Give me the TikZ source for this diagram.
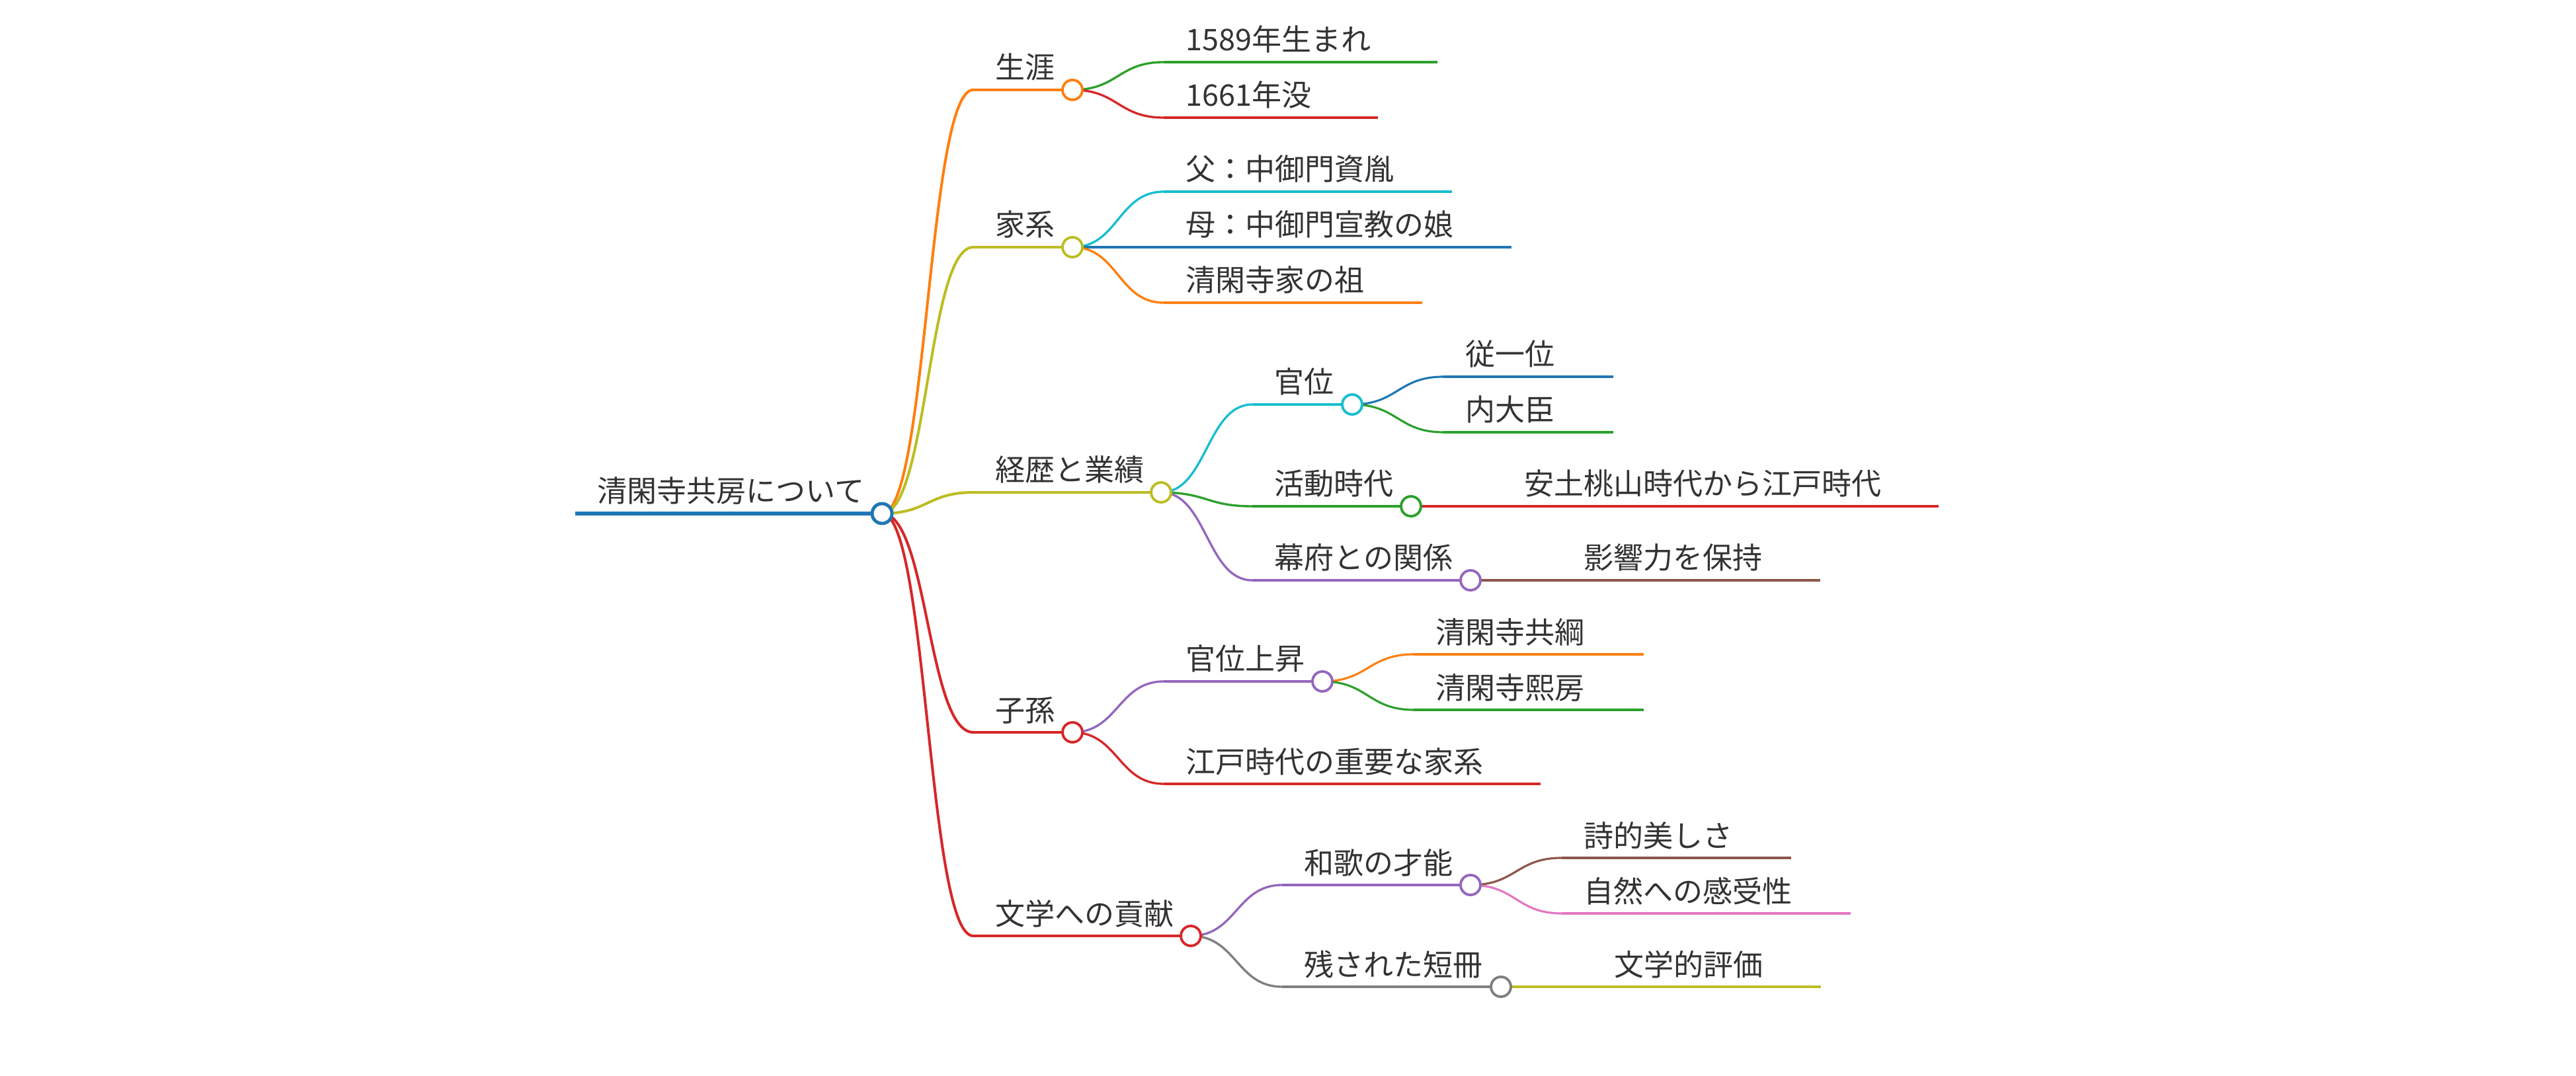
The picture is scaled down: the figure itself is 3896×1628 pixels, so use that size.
\documentclass[tikz,border=0pt]{standalone}
\usepackage{fontspec}
\newfontfamily\jp{Noto Sans CJK JP}
\usetikzlibrary{calc}
\definecolor{cBlue}{HTML}{1F77B4}
\definecolor{cOrange}{HTML}{FF7F0E}
\definecolor{cGreen}{HTML}{2CA02C}
\definecolor{cRed}{HTML}{D62728}
\definecolor{cPurple}{HTML}{9467BD}
\definecolor{cBrown}{HTML}{8C564B}
\definecolor{cPink}{HTML}{E377C2}
\definecolor{cGray}{HTML}{7F7F7F}
\definecolor{cOlive}{HTML}{BCBD22}
\definecolor{cCyan}{HTML}{17BECF}
\definecolor{txtcol}{HTML}{333333}
\tikzset{
  txt/.style={anchor=base west, inner sep=0pt, text=txtcol, font=\jp\fontsize{12.8}{15}\selectfont},
  wzero/.style={line width=1.7pt},
  wone/.style={line width=1.15pt},
  wtwo/.style={line width=0.95pt},
  wthree/.style={line width=0.9pt},
  dot/.style={circle, fill=white, inner sep=0pt, minimum size=0.3cm, line width=1.1pt},
}
% name, colour, width style, x start, x end, y, text
\newcommand\mmnode[7]{%
  \coordinate (#1-s) at (#4,#6);
  \coordinate (#1-e) at (#5,#6);
  \draw[#2,#3] (#1-s) -- (#1-e);
  \node[txt] (#1) at (#4+33,#6-17) {#7};
}
\newcommand\mmlink[3]{%
  \draw[#1] let \p1=(#2), \p2=(#3) in
    (\p1) .. controls ({0.5*\x1+0.5*\x2},\y1) and ({0.5*\x1+0.5*\x2},\y2) .. (\p2);
}
\begin{document}
\begin{tikzpicture}[x=0.01cm,y=-0.01cm]
\useasboundingbox[fill=white] (0,0) rectangle (3896,1628);
% nodes with underlines
\mmnode{root}{cBlue}{wzero}{870}{1334}{777}{清閑寺共房について}
\mmnode{n1}{cOrange}{wone}{1472}{1622}{136}{生涯}
\mmnode{n11}{cGreen}{wtwo}{1760}{2174}{94}{1589年生まれ}
\mmnode{n12}{cRed}{wtwo}{1760}{2084}{178}{1661年没}
\mmnode{n2}{cOlive}{wone}{1472}{1622}{374}{家系}
\mmnode{n21}{cCyan}{wtwo}{1760}{2196}{290}{父：中御門資胤}
\mmnode{n22}{cBlue}{wtwo}{1760}{2286}{374}{母：中御門宣教の娘}
\mmnode{n23}{cOrange}{wtwo}{1760}{2151}{458}{清閑寺家の祖}
\mmnode{n3}{cOlive}{wone}{1472}{1756}{745}{経歴と業績}
\mmnode{n31}{cCyan}{wtwo}{1894}{2045}{612}{官位}
\mmnode{n311}{cBlue}{wthree}{2183}{2440}{570}{従一位}
\mmnode{n312}{cGreen}{wthree}{2183}{2440}{654}{内大臣}
\mmnode{n32}{cGreen}{wtwo}{1894}{2134}{766}{活動時代}
\mmnode{n321}{cRed}{wthree}{2272}{2932}{766}{安土桃山時代から江戸時代}
\mmnode{n33}{cPurple}{wtwo}{1894}{2224}{878}{幕府との関係}
\mmnode{n331}{cBrown}{wthree}{2362}{2753}{878}{影響力を保持}
\mmnode{n4}{cRed}{wone}{1472}{1622}{1108}{子孫}
\mmnode{n41}{cPurple}{wtwo}{1760}{2000}{1031}{官位上昇}
\mmnode{n411}{cOrange}{wthree}{2138}{2486}{990}{清閑寺共綱}
\mmnode{n412}{cGreen}{wthree}{2138}{2486}{1074}{清閑寺熙房}
\mmnode{n42}{cRed}{wtwo}{1760}{2330}{1186}{江戸時代の重要な家系}
\mmnode{n5}{cRed}{wone}{1472}{1801}{1416}{文学への貢献}
\mmnode{n51}{cPurple}{wtwo}{1939}{2224}{1339}{和歌の才能}
\mmnode{n511}{cBrown}{wthree}{2362}{2709}{1298}{詩的美しさ}
\mmnode{n512}{cPink}{wthree}{2362}{2799}{1382}{自然への感受性}
\mmnode{n52}{cGray}{wtwo}{1939}{2270}{1493}{残された短冊}
\mmnode{n521}{cOlive}{wthree}{2408}{2754}{1493}{文学的評価}
% links
\mmlink{cOrange,wone}{root-e}{n1-s}
\mmlink{cOlive,wone}{root-e}{n2-s}
\mmlink{cOlive,wone}{root-e}{n3-s}
\mmlink{cRed,wone}{root-e}{n4-s}
\mmlink{cRed,wone}{root-e}{n5-s}
\mmlink{cGreen,wtwo}{n1-e}{n11-s}
\mmlink{cRed,wtwo}{n1-e}{n12-s}
\mmlink{cCyan,wtwo}{n2-e}{n21-s}
\mmlink{cBlue,wtwo}{n2-e}{n22-s}
\mmlink{cOrange,wtwo}{n2-e}{n23-s}
\mmlink{cCyan,wtwo}{n3-e}{n31-s}
\mmlink{cGreen,wtwo}{n3-e}{n32-s}
\mmlink{cPurple,wtwo}{n3-e}{n33-s}
\mmlink{cBlue,wthree}{n31-e}{n311-s}
\mmlink{cGreen,wthree}{n31-e}{n312-s}
\mmlink{cRed,wthree}{n32-e}{n321-s}
\mmlink{cBrown,wthree}{n33-e}{n331-s}
\mmlink{cPurple,wtwo}{n4-e}{n41-s}
\mmlink{cRed,wtwo}{n4-e}{n42-s}
\mmlink{cOrange,wthree}{n41-e}{n411-s}
\mmlink{cGreen,wthree}{n41-e}{n412-s}
\mmlink{cPurple,wtwo}{n5-e}{n51-s}
\mmlink{cGray,wtwo}{n5-e}{n52-s}
\mmlink{cBrown,wthree}{n51-e}{n511-s}
\mmlink{cPink,wthree}{n51-e}{n512-s}
\mmlink{cOlive,wthree}{n52-e}{n521-s}
% circles
\node[dot,draw=cBlue,line width=1.4pt] (root-c) at (root-e) {};
\node[dot,draw=cOrange] (n1-c) at (n1-e) {};
\node[dot,draw=cOlive] (n2-c) at (n2-e) {};
\node[dot,draw=cOlive] (n3-c) at (n3-e) {};
\node[dot,draw=cCyan] (n31-c) at (n31-e) {};
\node[dot,draw=cGreen] (n32-c) at (n32-e) {};
\node[dot,draw=cPurple] (n33-c) at (n33-e) {};
\node[dot,draw=cRed] (n4-c) at (n4-e) {};
\node[dot,draw=cPurple] (n41-c) at (n41-e) {};
\node[dot,draw=cRed] (n5-c) at (n5-e) {};
\node[dot,draw=cPurple] (n51-c) at (n51-e) {};
\node[dot,draw=cGray] (n52-c) at (n52-e) {};
\end{tikzpicture}
\end{document}
